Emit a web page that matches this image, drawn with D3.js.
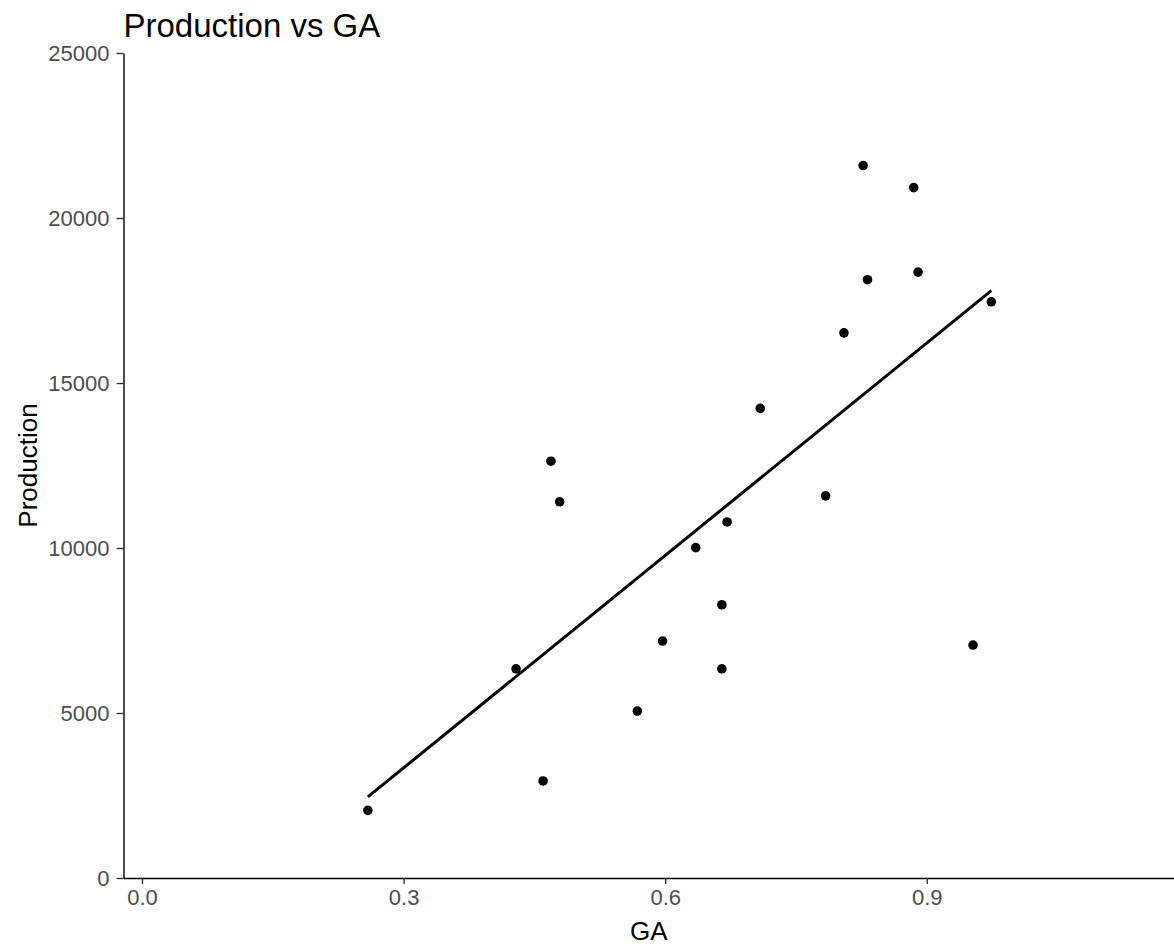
<!DOCTYPE html>
<html>
<head>
<meta charset="utf-8">
<script src="https://cdn.jsdelivr.net/npm/d3@7"></script>
<style>
  body { margin: 0; background: #fff; }
  svg { display: block; font-family: "Liberation Sans", Arial, sans-serif; }
</style>
</head>
<body>
<svg id="chart" width="1174" height="946"></svg>
<script>
'use strict';

//GA values (x) and Production values (y).
const ga = [0.259, 0.429, 0.460, 0.469, 0.479, 0.568, 0.597, 0.635, 0.665, 0.665,
            0.671, 0.709, 0.784, 0.805, 0.827, 0.832, 0.885, 0.890, 0.953, 0.974];
const production = [2050, 6340, 2940, 12630, 11400, 5060, 7180, 10010, 8280, 6340,
                    10790, 14230, 11580, 16520, 21590, 18130, 20920, 18360, 7060, 17460];
const xTicks = [0.0, 0.3, 0.6, 0.9];
const yTicks = [0, 5000, 10000, 15000, 20000, 25000];

const data = ga.map((d, i) => ({GA: d, Production: production[i]}));

const width = 1174;
const height = 946;
const margin = {top: 53, right: 0, bottom: 68, left: 123.5};

const svg = d3.select('#chart');

//x domain is a little wider than [0, 1.18], as ggplot padded it.
const xScale = d3.scaleLinear().domain([-0.0212, 1.1835]).range([margin.left, width - margin.right]);
const yScale = d3.scaleLinear().domain([0, 25000]).range([height - margin.bottom, margin.top]);

//Least squares fit, as geom_smooth(method = 'lm') does.
const mx = d3.mean(ga);
const my = d3.mean(production);
let sxy = 0, sxx = 0;
data.forEach((d) => {
	sxy += (d.GA - mx) * (d.Production - my);
	sxx += (d.GA - mx) * (d.GA - mx);
});
const slope = sxy / sxx;
const intercept = my - slope * mx;
const xExtent = d3.extent(ga);
const fit = xExtent.map((x) => ({GA: x, Production: intercept + slope * x}));

//Axes.
const xAxis = d3.axisBottom(xScale).tickValues(xTicks).tickFormat(d3.format('.1f'))
	.tickSizeOuter(0).tickSizeInner(6).tickPadding(5);
const yAxis = d3.axisLeft(yScale).tickValues(yTicks).tickFormat(d3.format('d'))
	.tickSizeOuter(0).tickSizeInner(7).tickPadding(7);

const gx = svg.append('g')
	.attr('transform', `translate(0, ${height - margin.bottom})`)
	.call(xAxis);
const gy = svg.append('g')
	.attr('transform', `translate(${margin.left}, 0)`)
	.call(yAxis);

[gx, gy].forEach((g) => {
	g.select('.domain').attr('stroke', '#000').attr('stroke-width', 1.4);
	g.selectAll('.tick line').attr('stroke', '#333333').attr('stroke-width', 1.4);
	g.selectAll('.tick text').attr('fill', '#4D4D4D').style('font-size', '22px');
});

//Points.
svg.append('g')
	.selectAll('circle')
	.data(data)
	.enter()
	.append('circle')
	.attr('cx', (d) => xScale(d.GA))
	.attr('cy', (d) => yScale(d.Production))
	.attr('r', 4.8)
	.attr('fill', '#000');

//Fitted line.
svg.append('path')
	.datum(fit)
	.attr('fill', 'none')
	.attr('stroke', '#000')
	.attr('stroke-width', 3)
	.attr('d', d3.line().x((d) => xScale(d.GA)).y((d) => yScale(d.Production)));

//Titles.
svg.append('text')
	.attr('x', margin.left)
	.attr('y', 37)
	.style('font-size', '33px')
	.attr('fill', '#000')
	.text('Production vs GA');

svg.append('text')
	.attr('x', (margin.left + width - margin.right) / 2)
	.attr('y', 940)
	.attr('text-anchor', 'middle')
	.style('font-size', '26px')
	.attr('fill', '#000')
	.text('GA');

svg.append('text')
	.attr('transform', `translate(37, ${(margin.top + height - margin.bottom) / 2}) rotate(-90)`)
	.attr('text-anchor', 'middle')
	.style('font-size', '26px')
	.attr('fill', '#000')
	.text('Production');
</script>
</body>
</html>
